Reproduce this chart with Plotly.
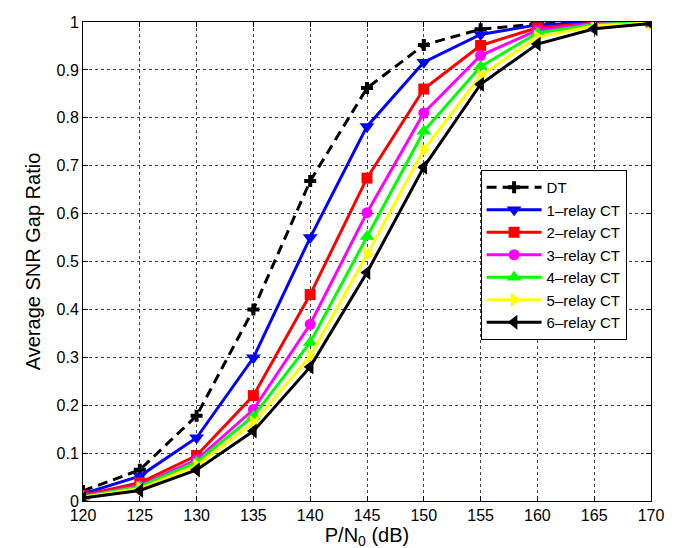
import plotly.graph_objects as go

x_db = [120, 125, 130, 135, 140, 145, 150, 155, 160, 165, 170]
dt = [0.021, 0.065, 0.178, 0.400, 0.668, 0.862, 0.952, 0.985, 0.996, 0.999, 1.0]
r1 = [0.015, 0.052, 0.132, 0.299, 0.550, 0.782, 0.916, 0.974, 0.994, 0.999, 1.0]
r2 = [0.012, 0.038, 0.095, 0.220, 0.431, 0.674, 0.860, 0.951, 0.988, 0.998, 1.0]
r3 = [0.010, 0.032, 0.086, 0.191, 0.369, 0.602, 0.810, 0.930, 0.983, 0.997, 1.0]
r4 = [0.009, 0.030, 0.081, 0.177, 0.331, 0.552, 0.772, 0.907, 0.977, 0.995, 0.999]
r5 = [0.008, 0.026, 0.074, 0.163, 0.303, 0.514, 0.733, 0.888, 0.968, 0.992, 0.998]
r6 = [0.006, 0.022, 0.065, 0.146, 0.280, 0.477, 0.697, 0.870, 0.954, 0.986, 0.997]

names = ["DT", "1–relay CT", "2–relay CT", "3–relay CT", "4–relay CT", "5–relay CT", "6–relay CT"]
series = [dt, r1, r2, r3, r4, r5, r6]
colors = ["#000000", "#0000ff", "#ff0000", "#ff00ff", "#00ff00", "#ffff00", "#000000"]
symbols = ["cross", "triangle-down", "square", "circle", "triangle-up", "triangle-right", "triangle-left"]
sizes = [10, 13, 11, 11, 13, 13, 13]

fig = go.Figure()
for i, (nm, ys) in enumerate(zip(names, series)):
    fig.add_trace(go.Scatter(
        x=x_db, y=ys, name=nm, mode="lines+markers",
        line=dict(color=colors[i], width=3, dash="10px,6px" if i == 0 else "solid"),
        marker=dict(symbol=symbols[i], size=sizes[i], color=colors[i], line=dict(width=0)),
    ))

axis_common = dict(
    showline=True, linecolor="black", linewidth=1, mirror="ticks",
    ticks="inside", ticklen=5, tickcolor="black",
    showgrid=True, gridcolor="#444444", griddash="dot", gridwidth=1,
    zeroline=False, automargin=False,
    tickfont=dict(family="Liberation Sans, Arial, sans-serif", size=16, color="black"),
)

fig.update_layout(
    width=674, height=548,
    margin=dict(l=75, r=31, t=14, b=55),
    paper_bgcolor="white", plot_bgcolor="white",
    font=dict(family="Liberation Sans, Arial, sans-serif", color="black"),
    xaxis=dict(range=[120, 170], dtick=5, tick0=120,
               title=dict(text="P/N<sub>0</sub> (dB)", font=dict(size=20), standoff=0),
               **axis_common),
    yaxis=dict(range=[0, 1], dtick=0.1, tick0=0,
               title=dict(text="Average SNR Gap Ratio", font=dict(size=20), standoff=10),
               **axis_common),
    legend=dict(x=0.70, y=0.691, xanchor="left", yanchor="top",
                bordercolor="black", borderwidth=1, bgcolor="white",
                font=dict(size=15), itemwidth=55, tracegroupgap=0),
)

fig.write_html("out.html")
